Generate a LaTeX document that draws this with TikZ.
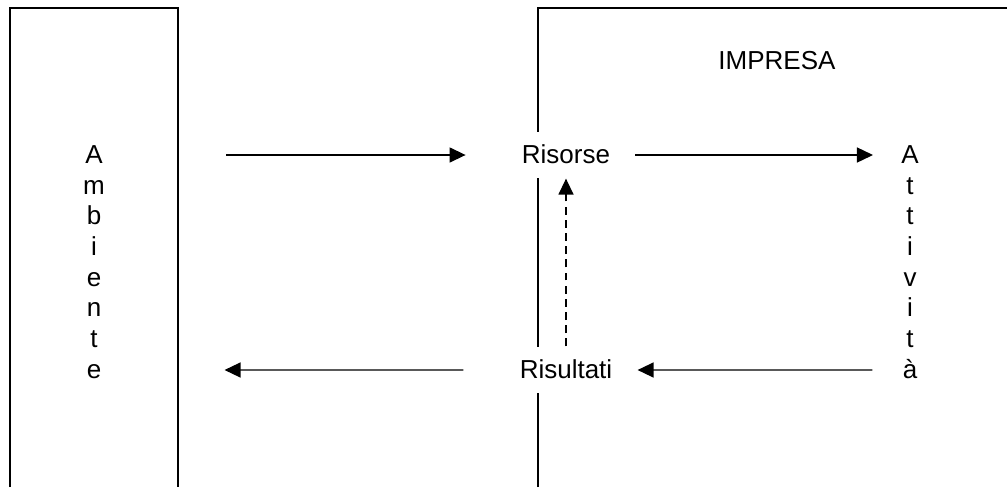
\documentclass[tikz,border=0pt]{standalone}
\usepackage{fontspec}
\setmainfont{Liberation Sans}
\usetikzlibrary{arrows.meta}

\begin{document}
\begin{tikzpicture}[x=0.02cm, y=-0.02cm,
  txt/.style={font=\fontsize{14.8}{17.5}\selectfont, text height=11pt, text depth=1.5pt, inner sep=0pt},
  box/.style={line width=1.1pt},
  arr/.style={line width=0.8pt, -{Triangle[length=0.32cm, width=0.3cm]}}]
  \useasboundingbox (0,0) rectangle (1007,487);

  % riquadri aperti in basso
  \draw[box] (10,487) -- (10,8) -- (178,8) -- (178,487);
  \draw[box] (538,487) -- (538,8) -- (1007,8);

  \node[txt] (imp) at (777,61) {IMPRESA};
  \node[txt, fill=white, inner ysep=7pt] (ris) at (566,155) {Risorse};
  \node[txt, fill=white, inner ysep=7pt] (rst) at (566,370) {Risultati};

  % scritte verticali
  \foreach \l [count=\i] in {A,m,b,i,e,n,t,e}
    \node[txt] (amb\i) at (94,{155+(\i-1)*30.714}) {\l};
  \foreach \l [count=\i] in {A,t,t,i,v,i,t,à}
    \node[txt] (att\i) at (910,{155+(\i-1)*30.714}) {\l};

  % flussi
  \draw[arr, shorten <=2.46cm, shorten >=1.12cm] (amb1) -- (ris);
  \draw[arr, shorten <=0.5cm, shorten >=0.56cm] (ris) -- (att1);
  \draw[arr, shorten <=0.6cm, shorten >=0.5cm] (att8) -- (rst);
  \draw[arr, shorten <=1.12cm, shorten >=2.46cm] (rst) -- (amb8);
  \draw[arr, dash pattern=on 4.5pt off 3pt] (rst) -- (ris);
\end{tikzpicture}
\end{document}
